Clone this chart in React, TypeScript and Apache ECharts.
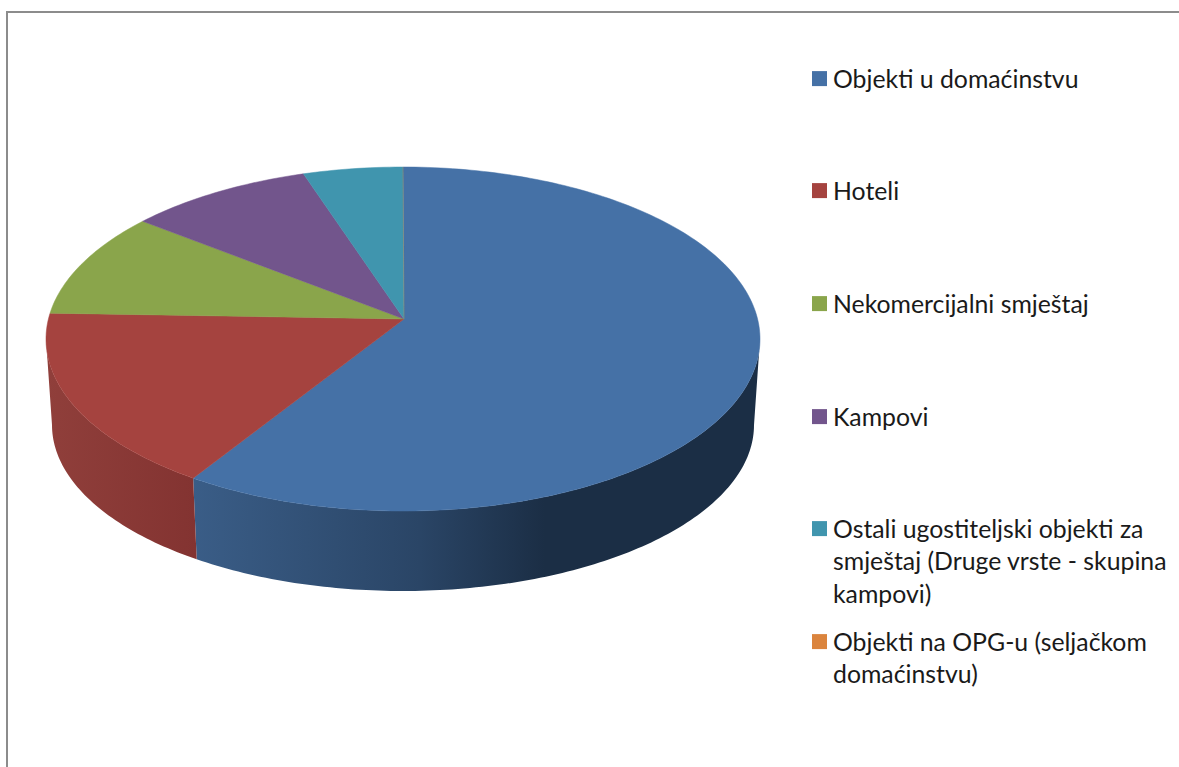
import React, { useEffect, useRef } from "react";
import * as echarts from "echarts";

const categories = [
  "Objekti u domaćinstvu",
  "Hoteli",
  "Nekomercijalni smještaj",
  "Kampovi",
  "Ostali ugostiteljski objekti za",
  "Objekti na OPG-u (seljačkom",
];
const continuationLines = [
  [],
  [],
  [],
  [],
  ["smještaj (Druge vrste - skupina", "kampovi)"],
  ["domaćinstvu)"],
];
const values = [60.0, 17.4, 9.6, 8.5, 4.5, 0];
const colors = ["#4571a6", "#a5433f", "#8aa54b", "#72558c", "#4095ae", "#db843d"];

const legendLineY = [79.5, 191.5, 304.5, 417.5, 529.5, 642.5];
const LINE_H = 33;
const FONT = "Lato, Carlito, sans-serif";
const FONT_SIZE = 24.8;

const TOP = { cx: 403, cy: 339, rx: 357, ry: 172 };
const BOT = { cx: 403, cy: 425, rx: 351, ry: 166 };
const APEX = { x: 404, y: 319 };

const wallFill: Record<number, any> = {
  0: {
    type: "linear", x: 0, y: 0, x2: 1, y2: 0,
    colorStops: [
      { offset: 0, color: "#3a5d87" },
      { offset: 0.4, color: "#2a4566" },
      { offset: 0.62, color: "#1b2e45" },
      { offset: 1, color: "#1b2e45" },
    ],
  },
  1: {
    type: "linear", x: 0, y: 0, x2: 1, y2: 0,
    colorStops: [
      { offset: 0, color: "#903f3b" },
      { offset: 1, color: "#833331" },
    ],
  },
};

const rim = (e: typeof TOP, deg: number) => {
  const t = (deg * Math.PI) / 180;
  return [e.cx + e.rx * Math.sin(t), e.cy - e.ry * Math.cos(t)];
};

const total = values.reduce((a, b) => a + b, 0);

function makeRenderItem(index: number) {
  return (_params: any, api: any) => {
    const before = values.slice(0, index).reduce((a, b) => a + b, 0);
    const a0 = (before / total) * 360;
    const a1 = a0 + (Number(api.value(0)) / total) * 360;
    const children: any[] = [];

    const w0 = Math.max(a0, 90);
    const w1 = Math.min(a1, 270);
    if (w1 > w0) {
      const pts: number[][] = [];
      for (let d = w0; d < w1; d += 1) pts.push(rim(TOP, d));
      pts.push(rim(TOP, w1));
      const back: number[][] = [];
      for (let d = w0; d < w1; d += 1) back.push(rim(BOT, d));
      back.push(rim(BOT, w1));
      const all = pts.concat(back.reverse());
      children.push({
        type: "polygon",
        shape: { points: all },
        style: { fill: wallFill[index] ?? colors[index] },
        silent: true,
      });
    }

    const topPts: number[][] = [[APEX.x, APEX.y]];
    for (let d = a0; d < a1; d += 1) topPts.push(rim(TOP, d));
    topPts.push(rim(TOP, a1));
    if (a1 > a0) {
      children.push({
        type: "polygon",
        shape: { points: topPts },
        style: { fill: colors[index], stroke: colors[index], lineWidth: 0.5 },
        silent: true,
      });
    } else {
      const p = rim(TOP, a0);
      children.push({
        type: "line",
        shape: { x1: APEX.x, y1: APEX.y, x2: p[0], y2: p[1] },
        style: { stroke: colors[index], lineWidth: 0.6, opacity: 0.6 },
        silent: true,
      });
    }
    return { type: "group", children };
  };
}

export default function App() {
  const ref = useRef<HTMLDivElement>(null);
  useEffect(() => {
    document.body.style.margin = "0";
    const chart = echarts.init(ref.current!, undefined, { renderer: "svg" });
    const graphicText: any[] = [];
    continuationLines.forEach((lines, i) =>
      lines.forEach((line, j) =>
        graphicText.push({
          type: "text",
          left: 833,
          top: legendLineY[i] + (j + 1) * LINE_H - FONT_SIZE / 2 - 2,
          style: { text: line, font: `${FONT_SIZE}px ${FONT}`, fill: "#1a1a1a" },
        })
      )
    );
    chart.setOption({
      animation: false,
      backgroundColor: "#ffffff",
      tooltip: { show: false },
      legend: categories.map((name, i) => ({
        data: [name],
        left: 812,
        top: legendLineY[i] - FONT_SIZE / 2 - 1,
        padding: 0,
        itemWidth: 15,
        itemHeight: 15,
        itemGap: 0,
        icon: "rect",
        selectedMode: false,
        textStyle: { fontFamily: FONT, fontSize: FONT_SIZE, color: "#1a1a1a", padding: [0, 0, 4, 1] },
      })),
      series: categories.map((name, i) => ({
        type: "custom",
        name,
        coordinateSystem: "none",
        silent: true,
        itemStyle: { color: colors[i] },
        data: [values[i]],
        renderItem: makeRenderItem(i),
      })),
      graphic: [
        {
          type: "line",
          silent: true,
          shape: { x1: 7, y1: 12, x2: 7, y2: 767 },
          style: { stroke: "#8c8c8c", lineWidth: 2 },
        },
        {
          type: "line",
          silent: true,
          shape: { x1: 6, y1: 12, x2: 1179, y2: 12 },
          style: { stroke: "#8c8c8c", lineWidth: 2 },
        },
        ...graphicText,
      ],
    });
    return () => chart.dispose();
  }, []);
  return <div ref={ref} style={{ width: 1179, height: 767 }} />;
}
